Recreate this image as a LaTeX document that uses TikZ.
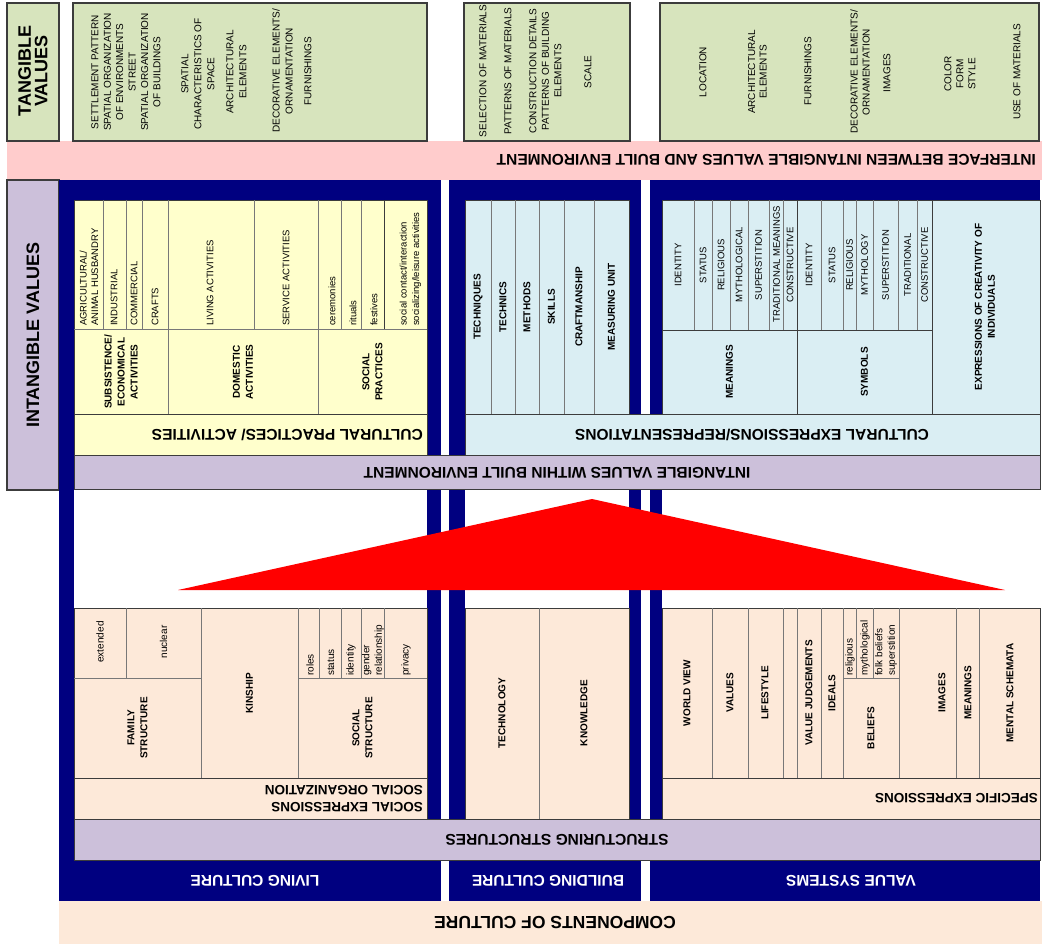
\documentclass[tikz,border=0pt]{standalone}
\usepackage{fontspec}
\setmainfont{Liberation Sans}
\newcommand\fs[2]{\fontsize{#1}{#2}\selectfont}
\definecolor{tgreen}{RGB}{215,228,189}
\definecolor{ipink}{RGB}{255,204,204}
\definecolor{lav}{RGB}{204,192,218}
\definecolor{navy}{RGB}{0,0,128}
\definecolor{cyel}{RGB}{255,255,204}
\definecolor{cblue}{RGB}{218,238,243}
\definecolor{cpeach}{RGB}{253,233,217}
\definecolor{edge}{RGB}{60,60,60}
\definecolor{thin}{RGB}{120,120,120}
\begin{document}
\begin{tikzpicture}[x=1pt,y=-1pt,
  box/.style={draw=edge,line width=1.3pt},
  sep/.style={draw=edge,line width=0.9pt},
  cell/.style={draw=thin,line width=0.6pt},
  vt/.style={rotate=90,inner sep=0pt,align=center,font=\fs{9.5}{11.5}},
  gt/.style={rotate=90,inner sep=0pt,align=center,font=\fs{10}{12.4}},
  vtb/.style={rotate=90,inner sep=0pt,align=center,font=\bfseries\fs{10}{13}},
  vbot/.style={rotate=90,anchor=west,inner sep=0pt,align=left,font=\fs{9.5}{11.5}},
  band/.style={rotate=180,inner sep=0pt,align=left,font=\bfseries\fs{15.5}{17}},
  sband/.style={rotate=180,inner sep=0pt,align=left,font=\bfseries\fs{13.5}{17}},
  title/.style={rotate=90,inner sep=0pt,align=center,font=\bfseries\fs{18}{16.5}},
  navylabel/.style={band,text=white}]
\useasboundingbox (0,0) rectangle (1042,944);
\fill[white] (0,0) rectangle (1042,944);

% ---------- tangible values ----------
\fill[ipink] (7,141) rectangle (1042,180);
\filldraw[fill=tgreen,box] (7,3) rectangle (59,141);
\filldraw[fill=tgreen,box] (73,3) rectangle (427,141);
\filldraw[fill=tgreen,box] (464,3) rectangle (630,141);
\filldraw[fill=tgreen,box] (660,3) rectangle (1039,141);
\node[title] (tv) at (33,71) {TANGIBLE\\VALUES};

\node[gt,font=\fs{10}{12.4}] (g1) at (126,72) {SETTLEMENT PATTERN\\SPATIAL ORGANIZATION\\OF ENVIRONMENTS\\STREET\\SPATIAL ORGANIZATION\\OF BUILDINGS};
\node[gt,font=\fs{10}{13}] (g2) at (198,74) {SPATIAL\\CHARACTERISTICS OF\\SPACE};
\node[gt,font=\fs{10}{13}] (g3) at (236.5,72) {ARCHITECTURAL\\ELEMENTS};
\node[gt,font=\fs{10}{13}] (g4) at (282.5,71) {DECORATIVE ELEMENTS/\\ORNAMENTATION};
\node[gt] (g5) at (308,71) {FURNISHINGS};

\node[gt] (h1) at (483,71) {SELECTION OF MATERIALS};
\node[gt] (h2) at (508,71) {PATTERNS OF MATERIALS};
\node[gt,font=\fs{10}{12.5}] (h3) at (545.5,71) {CONSTRUCTION DETAILS\\PATTERNS OF BUILDING\\ELEMENTS};
\node[gt] (h4) at (588,72) {SCALE};

\node[gt] (k1) at (703,72) {LOCATION};
\node[gt,font=\fs{10}{11.5}] (k2) at (757.5,72) {ARCHITECTURAL\\ELEMENTS};
\node[gt] (k3) at (808,71) {FURNISHINGS};
\node[gt,font=\fs{10}{12}] (k4) at (860,72) {DECORATIVE ELEMENTS/\\ORNAMENTATION};
\node[gt] (k5) at (887,73) {IMAGES};
\node[gt,font=\fs{10}{12}] (k6) at (960,74) {COLOR\\FORM\\STYLE};
\node[gt] (k7) at (1017,72) {USE OF MATERIALS};

\node[band,anchor=west] (iface) at (1036,160) {INTERFACE BETWEEN INTANGIBLE VALUES AND BUILT ENVIRONMENT};

% ---------- frames ----------
\filldraw[fill=lav,box] (7,180) rectangle (59,490);
\node[title] (iv) at (33,335) {INTANGIBLE VALUES};
\fill[navy] (59,180) rectangle (441,901);
\fill[navy] (449,180) rectangle (641,901);
\fill[navy] (650,180) rectangle (1040,901);
\fill[white] (74,200) rectangle (427,860);
\fill[white] (465,200) rectangle (629,860);
\fill[white] (662,200) rectangle (1040,860);
\fill[cpeach] (59,901) rectangle (1042,944);

% ---------- cultural practices / activities ----------
\filldraw[fill=cyel,sep] (74,200) rectangle (427,414);
\filldraw[fill=cyel,sep] (74,414) rectangle (427,455);
\foreach \x in {103,126,142,254,341,361} \draw[cell] (\x,200) -- (\x,329);
\draw[sep] (384,200) -- (384,329);
\foreach \x in {168,318} \draw[cell] (\x,200) -- (\x,414);
\draw[cell] (74,329) -- (427,329);
\node[vbot] (a1) at (89,326) {AGRICULTURAL/\\ANIMAL HUSBANDRY};
\node[vbot] (a2) at (114,326) {INDUSTRIAL};
\node[vbot] (a3) at (134,326) {COMMERCIAL};
\node[vbot] (a4) at (155,326) {CRAFTS};
\node[vbot] (a5) at (210,326) {LIVING ACTIVITIES};
\node[vbot] (a6) at (286,326) {SERVICE ACTIVITIES};
\node[vbot] (a7) at (332,326) {ceremonies};
\node[vbot] (a8) at (353,326) {rituals};
\node[vbot] (a9) at (374,326) {festives};
\node[vbot,font=\fs{9.5}{12.5}] (a10) at (410.5,326) {social contact/interaction\\socializing/leisure activities};
\node[vtb] (b1) at (121,372) {SUBSISTENCE/\\ECONOMICAL\\ACTIVITIES};
\node[vtb] (b2) at (243,372) {DOMESTIC\\ACTIVITIES};
\node[vtb] (b3) at (372.5,372) {SOCIAL\\PRACTICES};
\node[band,anchor=west] (cpa) at (423,435) {CULTURAL PRACTICES/ ACTIVITIES};

% ---------- cultural expressions / representations ----------
\filldraw[fill=cblue,sep] (465,200) rectangle (629,414);
\foreach \x in {491,515,539,564,594} \draw[cell] (\x,200) -- (\x,414);
\node[vtb] (c1) at (478,307) {TECHNIQUES};
\node[vtb] (c2) at (503,307) {TECHNICS};
\node[vtb] (c3) at (527,307) {METHODS};
\node[vtb] (c4) at (551.5,307) {SKILLS};
\node[vtb] (c5) at (579,307) {CRAFTMANSHIP};
\node[vtb] (c6) at (611.5,307) {MEASURING UNIT};

\filldraw[fill=cblue,sep] (662,200) rectangle (1040,414);
\foreach \x in {694,712,730,748,769,783,821,843,856,873,898,917} \draw[cell] (\x,200) -- (\x,330);
\draw[sep] (662,330) -- (932,330);
\draw[sep] (797,200) -- (797,414);
\draw[sep] (932,200) -- (932,414);
\node[vt] (m1) at (678,265) {IDENTITY};
\node[vt] (m2) at (703,265) {STATUS};
\node[vt] (m3) at (721,265) {RELIGIOUS};
\node[vt] (m4) at (739,265) {MYTHOLOGICAL};
\node[vt] (m5) at (758.5,265) {SUPERSTITION};
\node[vt] (m6) at (776.5,264) {TRADITIONAL MEANINGS};
\node[vt] (m7) at (790,265) {CONSTRUCTIVE};
\node[vt] (s1) at (809,265) {IDENTITY};
\node[vt] (s2) at (832,265) {STATUS};
\node[vt] (s3) at (849.5,265) {RELIGIOUS};
\node[vt] (s4) at (864.5,265) {MYTHOLOGY};
\node[vt] (s5) at (885.5,265) {SUPERSTITION};
\node[vt] (s6) at (907.5,265) {TRADITIONAL};
\node[vt] (s7) at (924.5,265) {CONSTRUCTIVE};
\node[vtb] (mn) at (729.5,372) {MEANINGS};
\node[vtb] (sy) at (864.5,372) {SYMBOLS};
\node[vtb] (ex) at (985,307) {EXPRESSIONS OF CREATIVITY OF\\INDIVIDUALS};

\filldraw[fill=cblue,sep] (465,414) rectangle (1040,455);
\node[band] (cer) at (752,435) {CULTURAL EXPRESSIONS/REPRESENTATIONS};

\filldraw[fill=lav,sep] (74,455) rectangle (1040,489);
\node[band] (ivb) at (557,473) {INTANGIBLE VALUES WITHIN BUILT ENVIRONMENT};

% ---------- arrow-head triangle ----------
\fill[red] (592,499) -- (1005,590) -- (178,590) -- cycle;

% ---------- social organization ----------
\filldraw[fill=cpeach,sep] (74,608) rectangle (427,778);
\filldraw[fill=cpeach,sep] (74,778) rectangle (427,819);
\draw[cell] (74,678) -- (201,678);
\draw[cell] (298,678) -- (427,678);
\foreach \x in {126,319,341,361,384} \draw[cell] (\x,608) -- (\x,678);
\foreach \x in {201,298} \draw[cell] (\x,608) -- (\x,778);
\node[vt,font=\fs{10}{12}] (d1) at (100,642) {extended};
\node[vt,font=\fs{10}{12}] (d2) at (163.5,642) {nuclear};
\node[vtb] (d3) at (249.5,693) {KINSHIP};
\node[vbot,font=\fs{10}{11.5}] (d4) at (310,676) {roles};
\node[vbot,font=\fs{10}{11.5}] (d5) at (331,676) {status};
\node[vbot,font=\fs{10}{11.5}] (d6) at (351,676) {identity};
\node[vbot,font=\fs{10}{12.5}] (d7) at (373,676) {gender\\relationship};
\node[vbot,font=\fs{10}{11.5}] (d8) at (406,676) {privacy};
\node[vtb] (d9) at (137.5,728) {FAMILY\\STRUCTURE};
\node[vtb] (d10) at (362.5,728) {SOCIAL\\STRUCTURE};
\node[sband,anchor=west] (soe) at (423,798.5) {SOCIAL EXPRESSIONS\\SOCIAL ORGANIZATION};

% ---------- technology / knowledge ----------
\filldraw[fill=cpeach,sep] (465,608) rectangle (629,819);
\draw[cell] (539,608) -- (539,819);
\node[vtb] (e1) at (502,713) {TECHNOLOGY};
\node[vtb] (e2) at (584,713) {KNOWLEDGE};

% ---------- specific expressions ----------
\filldraw[fill=cpeach,sep] (662,608) rectangle (1040,778);
\filldraw[fill=cpeach,sep] (662,778) rectangle (1040,819);
\foreach \x in {712,748,783,797,821,843,899,956,979} \draw[cell] (\x,608) -- (\x,778);
\foreach \x in {856,873} \draw[cell] (\x,608) -- (\x,678);
\draw[cell] (843,678) -- (899,678);
\node[vtb] (f1) at (687,693) {WORLD VIEW};
\node[vtb] (f2) at (730,693) {VALUES};
\node[vtb] (f3) at (765,693) {LIFESTYLE};
\node[vtb] (f4) at (809,693) {VALUE JUDGEMENTS};
\node[vtb] (f5) at (832,693) {IDEALS};
\node[vbot,font=\fs{10}{11.5}] (f6) at (850,676) {religious};
\node[vbot,font=\fs{10}{11.5}] (f7) at (865,676) {mythological};
\node[vbot,font=\fs{10}{12.5}] (f8) at (886,676) {folk beliefs\\superstition};
\node[vtb] (f9) at (871,728) {BELIEFS};
\node[vtb] (f10) at (942,693) {IMAGES};
\node[vtb] (f11) at (968,693) {MEANINGS};
\node[vtb] (f12) at (1010,693) {MENTAL SCHEMATA};
\node[sband,anchor=west] (spe) at (1038,798) {SPECIFIC EXPRESSIONS};

% ---------- structuring structures & components ----------
\filldraw[fill=lav,sep] (74,819) rectangle (1040,860);
\node[band] (sst) at (557,840) {STRUCTURING STRUCTURES};
\node[navylabel] (lc) at (255,881) {LIVING CULTURE};
\node[navylabel] (bc) at (548,881) {BUILDING CULTURE};
\node[navylabel] (vs) at (851,881) {VALUE SYSTEMS};
\node[band,font=\bfseries\fs{17.5}{20}] (coc) at (555,923) {COMPONENTS OF CULTURE};
\end{tikzpicture}
\end{document}
